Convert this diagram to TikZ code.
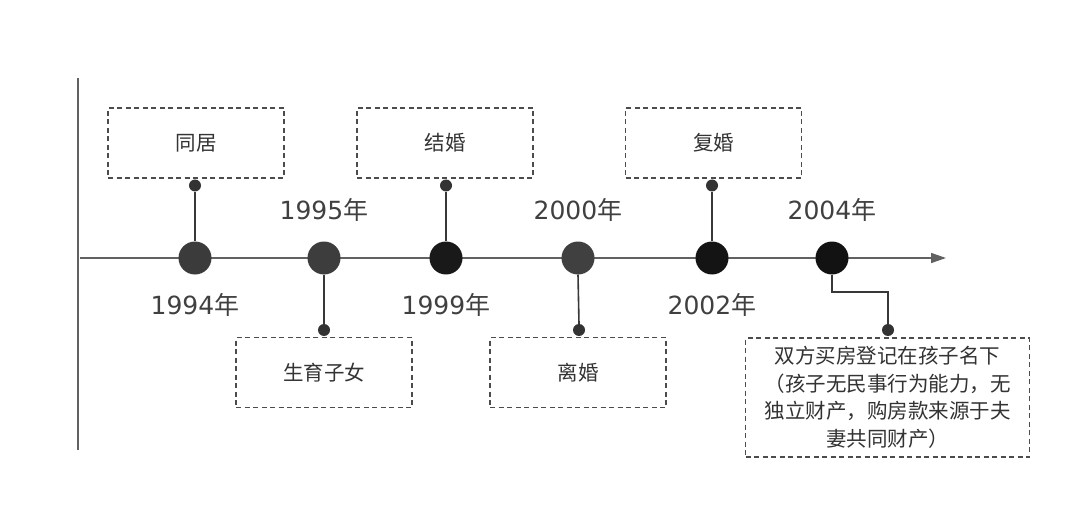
\documentclass[tikz,border=0pt]{standalone}
\usepackage{fontspec}
\setmainfont{Noto Sans CJK SC}
\newfontfamily\digitfont{DejaVu Sans}
\usetikzlibrary{arrows.meta}
\begin{document}
\begin{tikzpicture}[x=1pt,y=-1pt,
  axisline/.style={draw=black!62,line width=1.5pt},
  conn/.style={draw=black!78,line width=1.6pt},
  evbox/.style={draw=black!70,dashed,dash pattern=on 5pt off 3.5pt,line width=1.3pt,
     minimum width=176pt,minimum height=70pt,inner sep=0pt,text=black!80,
     font=\fontsize{20.5}{27.5}\selectfont},
  bigdot/.style={circle,minimum size=33pt,inner sep=0pt},
  smalldot/.style={circle,fill=black!80,minimum size=12pt,inner sep=0pt},
  yearlbl/.style={text=black!75,font=\fontsize{25}{28}\selectfont,inner sep=0pt}]
\useasboundingbox[fill=white] (0,0) rectangle (1080,508);
% frame line and time axis
\coordinate (v0) at (78,78);
\coordinate (v1) at (78,450);
\draw[axisline] (v0) -- (v1);
\coordinate (a0) at (80,258);
\coordinate (a1) at (946,258);
\draw[axisline,-{Triangle[length=15pt,width=10pt]}] (a0) -- (a1);
% event circles
\node[bigdot,fill=black!77] (c1) at (195,258) {};
\node[bigdot,fill=black!76] (c2) at (324,258) {};
\node[bigdot,fill=black!90] (c3) at (446,258) {};
\node[bigdot,fill=black!75] (c4) at (578,258) {};
\node[bigdot,fill=black!92] (c5) at (712,258) {};
\node[bigdot,fill=black!93] (c6) at (832,258) {};
% year labels
\node[yearlbl] (y1) at (195,305) {{\digitfont 1994}年};
\node[yearlbl] (y2) at (324,210) {{\digitfont 1995}年};
\node[yearlbl] (y3) at (446,305) {{\digitfont 1999}年};
\node[yearlbl] (y4) at (578,210) {{\digitfont 2000}年};
\node[yearlbl] (y5) at (712,305) {{\digitfont 2002}年};
\node[yearlbl] (y6) at (832,210) {{\digitfont 2004}年};
% boxes
\node[evbox] (b1) at (196,143) {同居};
\node[evbox] (b2) at (324,372.5) {生育子女};
\node[evbox] (b3) at (445,143) {结婚};
\node[evbox] (b4) at (578,372.5) {离婚};
\node[evbox] (b5) at (713.5,143) {复婚};
\node[evbox,minimum width=284pt,minimum height=119pt,align=center] (b6) at (887.5,397.5)
  {双方买房登记在孩子名下\\（孩子无民事行为能力，无\\独立财产，购房款来源于夫\\妻共同财产）};
% small dots
\node[smalldot] (d1) at (195,185.5) {};
\node[smalldot] (d2) at (324,330) {};
\node[smalldot] (d3) at (446,185.5) {};
\node[smalldot] (d4) at (579,330) {};
\node[smalldot] (d5) at (712,185.5) {};
\node[smalldot] (d6) at (888,330) {};
% connectors
\draw[conn] (c1.north) -- (d1.south);
\draw[conn] (c2.south) -- (d2.north);
\draw[conn] (c3.north) -- (d3.south);
\draw[conn] (c4.south) -- (d4.north);
\draw[conn] (c5.north) -- (d5.south);
\coordinate (k6) at (888,292);
\draw[conn] (c6.south) |- (k6) -- (d6.north);
\end{tikzpicture}
\end{document}
